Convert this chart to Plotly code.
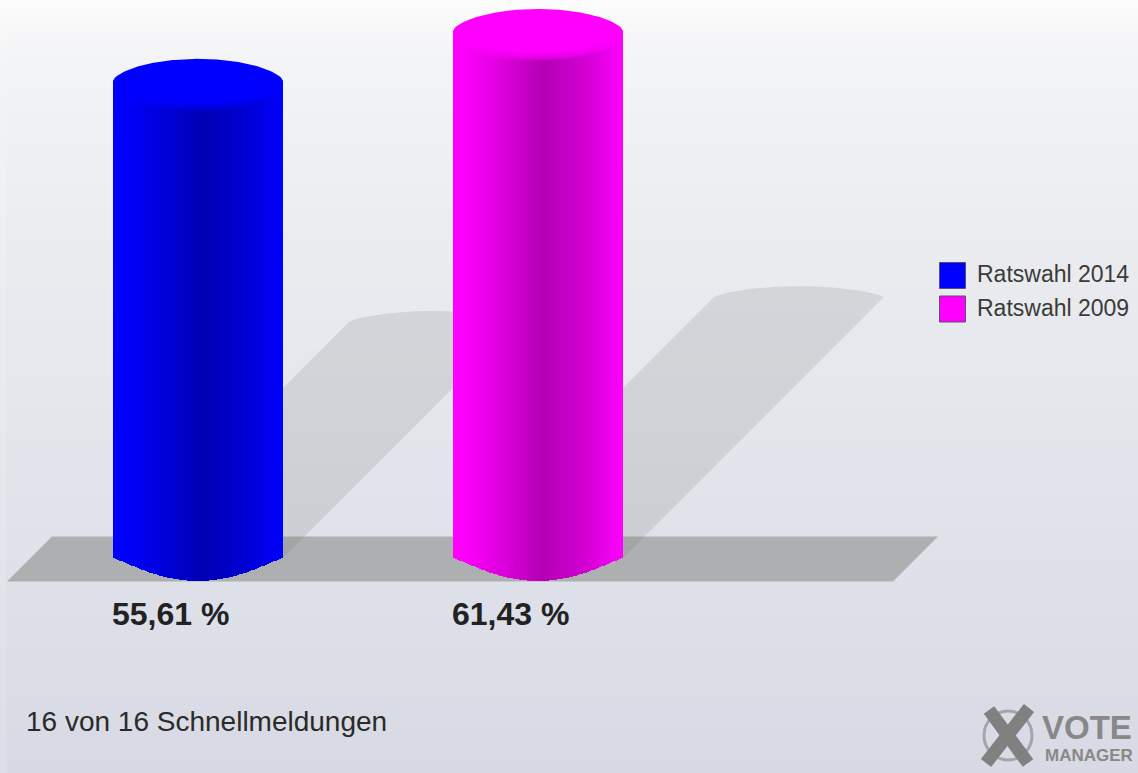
import numpy as np
import plotly.graph_objects as go

# ---- data ----
series = ["Ratswahl 2014", "Ratswahl 2009"]
values = [55.61, 61.43]
colors = [(0, 0, 255), (255, 0, 255)]
footer = "16 von 16 Schnellmeldungen"

# ---- layout constants (pixels of the 1138x773 page) ----
W, H = 1138, 773
BASE = 558          # pixel row of value 0
S = 8.58            # pixels per percent
CENTERS = [198, 538]
RX, RY_TOP, RY_BOT = 85, 22, 23
SHADOW_K = 0.495
SHADOW_RY = 11
Y0, Y1 = -(H - BASE) / S, BASE / S

def yv(p):
    return (BASE - p) / S

shade_u = [0, .08, .3, .45, .53, .6, .75, .9, 1]
shade_b = [1, .99, .86, .76, .70, .75, .81, .92, 1]

def dome(u, power=.62):
    return np.clip(1 - u**2, 0, 1)**power

fig = go.Figure()

# backdrop on the first axes
fig.add_trace(go.Heatmap(
    x=[0, W], y=[Y0, Y1], z=[[0, 0], [1, 1]], zsmooth="best", showscale=False, hoverinfo="skip",
    colorscale=[[0, "#d7dae4"], [.22, "#dde0e8"], [.65, "#e9ebef"], [.93, "#f3f4f6"], [1, "#fcfcfc"]],
    xaxis="x", yaxis="y"))
fig.add_trace(go.Scatter(x=[0, 6, 6, 0, 0], y=[Y0, Y0, Y1, Y1, Y0], mode="lines", line_width=0, fill="toself",
                         fillcolor="rgba(255,255,255,.12)", hoverinfo="skip", showlegend=False))
fig.add_trace(go.Scatter(x=[7, 52, 938, 893, 7], y=[yv(581.5), yv(536.5), yv(536.5), yv(581.5), yv(581.5)],
                         mode="lines", line_width=0, fill="toself", fillcolor="#aeafb1",
                         hoverinfo="skip", showlegend=False))
for v, cx in zip(values, CENTERS):
    dy = SHADOW_K * v
    dx = dy * S
    u = np.linspace(-1, 1, 61)
    ax = cx + dx + u * RX
    ay = dy + SHADOW_RY * dome(u, .75) / S
    fig.add_trace(go.Scatter(x=[cx - RX, *ax, cx + RX, cx - RX], y=[0, *ay, 0, 0], mode="lines", line_width=0,
                             fill="toself", fillcolor="rgba(110,110,112,.17)", hoverinfo="skip", showlegend=False))

# cylinders on the overlaid axes
for name, v, cx, c in zip(series, values, CENTERS, colors):
    xs = cx - RX + 1 + 2 * np.arange(RX)
    u = (xs - cx) / RX
    b = np.interp((u + 1) / 2, shade_u, shade_b)
    cols = [f"rgb({int(c[0]*k)},{int(c[1]*k)},{int(c[2]*k)})" for k in b]
    d = RY_BOT * dome(u, 1.2) / S
    fig.add_trace(go.Bar(x=xs, y=v + d, base=-d, width=2, name=name, marker=dict(color=cols, line_width=0),
                         hoverinfo="skip", showlegend=False, xaxis="x2", yaxis="y2"))
    t = np.linspace(-1, 1, 81)
    ex = cx + RX * t
    cap = RY_TOP * dome(t) / S
    rgb = f"{c[0]},{c[1]},{c[2]}"
    for off in range(8, 0, -1):
        fig.add_trace(go.Scatter(x=[*ex, *ex[::-1]], y=[*(v + cap - off / S), *(v - cap - off / S)[::-1]],
                                 mode="lines", line_width=0, fill="toself", fillcolor=f"rgba({rgb},.22)",
                                 hoverinfo="skip", showlegend=False, xaxis="x2", yaxis="y2"))
    fig.add_trace(go.Scatter(x=[*ex, *ex[::-1]], y=[*(v + cap), *(v - cap)[::-1]], mode="lines", line_width=0,
                             fill="toself", fillcolor=f"rgb({rgb})", hoverinfo="skip", showlegend=False,
                             xaxis="x2", yaxis="y2"))

# value labels
fig.add_trace(go.Scatter(
    x=[cx - RX - 1 for cx in CENTERS], y=[yv(617)] * 2, mode="text",
    text=[f"<b>{v:.2f} %</b>".replace(".", ",") for v in values], textposition="middle right",
    textfont=dict(family="Liberation Sans", size=32, color="#222222"),
    hoverinfo="skip", showlegend=False, xaxis="x2", yaxis="y2"))

# legend
fig.add_trace(go.Scatter(
    x=[952.5, 952.5], y=[yv(275.5), yv(309)], mode="markers",
    marker=dict(symbol="square", size=26, color=[f"rgb{c}" for c in colors], line=dict(width=1, color="#55556a")),
    hoverinfo="skip", showlegend=False, xaxis="x2", yaxis="y2"))
fig.add_trace(go.Scatter(
    x=[977, 977], y=[yv(276), yv(310)], mode="text", text=series,
    textposition="middle right", textfont=dict(family="Liberation Sans", size=23, color="#3a3a3a"),
    hoverinfo="skip", showlegend=False, xaxis="x2", yaxis="y2"))

axis = dict(visible=False, fixedrange=True)
fig.update_layout(
    width=W, height=H, margin=dict(l=0, r=0, t=0, b=0), showlegend=False, barmode="overlay", bargap=0,
    paper_bgcolor="#e9ebef", plot_bgcolor="rgba(0,0,0,0)",
    xaxis=dict(range=[0, W], **axis), yaxis=dict(range=[Y0, Y1], **axis),
    xaxis2=dict(range=[0, W], overlaying="x", **axis), yaxis2=dict(range=[Y0, Y1], overlaying="y", **axis),
    annotations=[
        dict(text=footer, x=24 / W, y=1 - 721 / H, xref="paper", yref="paper", xanchor="left", yanchor="middle",
             showarrow=False, font=dict(family="Liberation Sans", size=28, color="#2a2a2a")),
        dict(text="<b>VOTE</b>", x=1134 / W, y=1 - 727.5 / H, xref="paper", yref="paper", xanchor="right",
             yanchor="middle", showarrow=False, font=dict(family="Liberation Sans", size=33, color="#888888")),
        dict(text="<b>MANAGER</b>", x=1135 / W, y=1 - 755.5 / H, xref="paper", yref="paper", xanchor="right",
             yanchor="middle", showarrow=False, font=dict(family="Liberation Sans", size=17, color="#888888")),
    ],
    shapes=[
        dict(type="circle", xref="x2", yref="y2", x0=984, x1=1032, y0=yv(760), y1=yv(711),
             line=dict(color="#a5a5a8", width=3)),
        dict(type="line", xref="x2", yref="y2", x0=989, x1=1028, y0=yv(710), y1=yv(763),
             line=dict(color="#808080", width=13)),
        dict(type="line", xref="x2", yref="y2", x0=1029, x1=986, y0=yv(708), y1=yv(763),
             line=dict(color="#808080", width=13)),
    ],
)

fig.write_html("out.html", post_script="document.body.style.margin='0';", config=dict(displayModeBar=False))
